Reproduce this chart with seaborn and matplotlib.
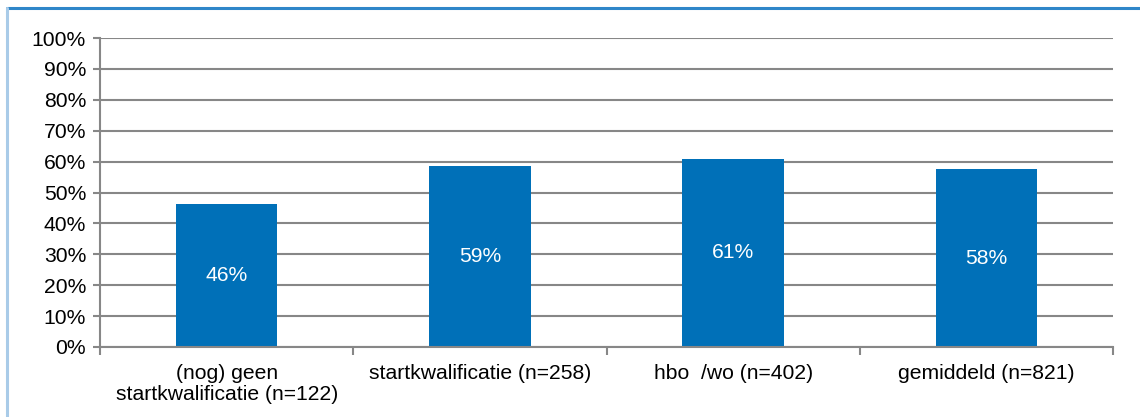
import matplotlib
matplotlib.use('Agg')
import matplotlib.pyplot as plt
import seaborn as sns
import pandas as pd
from matplotlib.lines import Line2D
from matplotlib.ticker import MultipleLocator, FuncFormatter

# data
categories = ['(nog) geen\nstartkwalificatie (n=122)', 'startkwalificatie (n=258)',
              'hbo  /wo (n=402)', 'gemiddeld (n=821)']
values = [46.2, 58.5, 61.0, 57.6]
bar_labels = ['46%', '59%', '61%', '58%']

sns.set_style('white')
plt.rcParams['font.family'] = ['Liberation Sans', 'DejaVu Sans']
plt.rcParams['text.color'] = 'black'
plt.rcParams['xtick.color'] = 'black'
plt.rcParams['ytick.color'] = 'black'

df = pd.DataFrame({'cat': categories, 'val': values})

fig = plt.figure(figsize=(11.4, 4.17), dpi=100)
ax = fig.add_axes([100 / 1140, 1 - 347 / 417, 1013 / 1140, 309 / 417])

sns.barplot(data=df, x='cat', y='val', ax=ax, color='#0070B8', width=0.4,
            saturation=1, linewidth=0)

gray = '#878787'
fs = 15.2
ax.set_ylim(0, 100)
ax.yaxis.set_major_locator(MultipleLocator(10))
ax.yaxis.set_major_formatter(FuncFormatter(lambda v, p: f'{v:.0f}%'))
ax.grid(axis='y', color=gray, linewidth=1.5)
ax.set_axisbelow(True)
ax.set_xlabel('')
ax.set_ylabel('')

for s in ['top', 'right']:
    ax.spines[s].set_visible(False)
for s in ['left', 'bottom']:
    ax.spines[s].set_color(gray)
    ax.spines[s].set_linewidth(1.5)

ax.tick_params(axis='y', which='major', length=5, width=1.5, color=gray, labelsize=fs, pad=5, left=True)
ax.tick_params(axis='x', which='major', length=0, labelsize=fs, pad=12)
# category boundary ticks on the x axis
ax.set_xticks([-0.5, 0.5, 1.5, 2.5, 3.5], minor=True)
ax.tick_params(axis='x', which='minor', length=6, width=1.5, color=gray, bottom=True)
ax.set_xlim(-0.5, 3.5)
for t in ax.get_xticklabels():
    t.set_linespacing(1.15)

for i, (v, lab) in enumerate(zip(values, bar_labels)):
    ax.text(i, v / 2, lab, color='white', ha='center', va='center', fontsize=fs)

# outer frame (light blue), as in the source screenshot
fig.add_artist(Line2D([7 / 1140, 1], [1 - 8 / 417, 1 - 8 / 417], color='#2F86C9', linewidth=2.2))
fig.add_artist(Line2D([7 / 1140, 7 / 1140], [0, 1 - 8 / 417], color='#A9CBE8', linewidth=2.2))

fig.savefig('out.png', dpi=100)
